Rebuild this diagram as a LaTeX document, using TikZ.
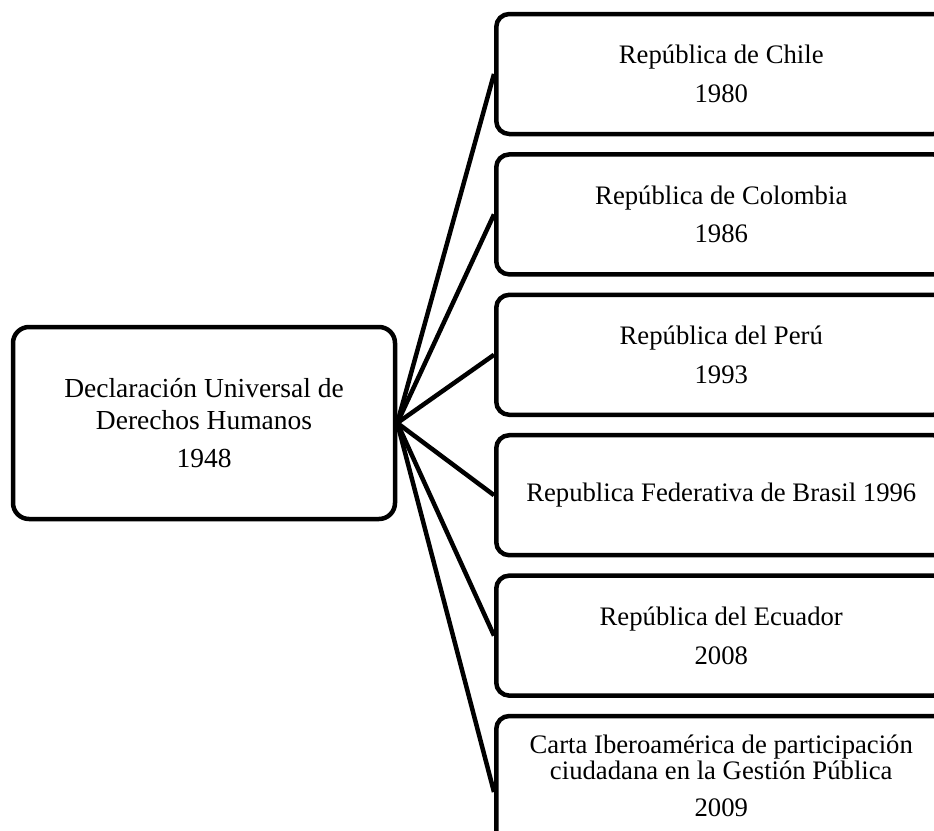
\documentclass[tikz,border=0pt]{standalone}
\usepackage{fontspec}
\setmainfont{Liberation Serif}
\tikzset{
  origen/.style={draw=black,line width=4.5pt,rounded corners=16pt,minimum width=382pt,minimum height=192pt,align=center,font=\fontsize{27.5}{32}\selectfont},
  hito/.style={draw=black,line width=4.5pt,rounded corners=13pt,minimum width=450pt,minimum height=120pt,align=center,anchor=west,font=\fontsize{26.7}{30.7}\selectfont},
  enlace/.style={draw=black,line width=4.5pt}
}
\begin{document}
\begin{tikzpicture}[x=1pt,y=-1pt]
 \useasboundingbox (0,0) rectangle (934,830);
 \clip (0,0) rectangle (934,830);
 \node[origen] (ddhh) at (204,423) {Declaración Universal de\\Derechos Humanos\\[6pt]1948};
 \node[hito] (chile) at (494,74) {República de Chile\\[8pt]1980};
 \node[hito] (colombia) at (494,214.4) {República de Colombia\\[8pt]1986};
 \node[hito] (peru) at (494,354.8) {República del Perú\\[8pt]1993};
 \node[hito] (brasil) at (494,495.2) {Republica Federativa de Brasil 1996};
 \node[hito] (ecuador) at (494,635.6) {República del Ecuador\\[8pt]2008};
 \node[hito,minimum height=136pt,font=\fontsize{26.7}{26}\selectfont] (carta) at (494,784) {Carta Iberoamérica de participación\\ciudadana en la Gestión Pública\\[11pt]2009\\[-10pt]\mbox{}};
 \draw[enlace] (ddhh.east) -- (chile.west);
 \draw[enlace] (ddhh.east) -- (colombia.west);
 \draw[enlace] (ddhh.east) -- (peru.west);
 \draw[enlace] (ddhh.east) -- (brasil.west);
 \draw[enlace] (ddhh.east) -- (ecuador.west);
 \draw[enlace] (ddhh.east) -- ([yshift=-8pt]carta.west);
\end{tikzpicture}
\end{document}
